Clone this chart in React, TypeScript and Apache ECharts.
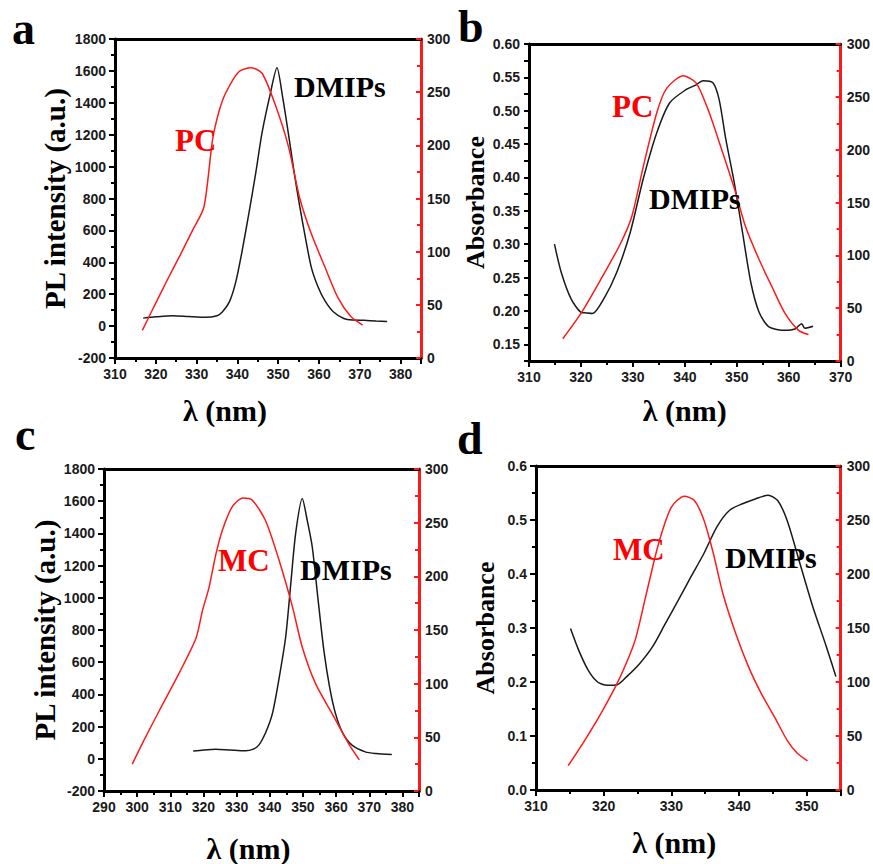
import React, { useEffect, useRef } from "react";
import * as echarts from "echarts";

// ---- Data (x = wavelength nm) ----
const aDMIPs: number[][] = [[316.9,50],[320,58],[324.2,65],[328,60],[332.2,55],[335,65],[336.3,88],[338,150],[339.5,266],[341,450],[342.8,705],[344.5,960],[346,1207],[348,1450],[349.7,1619],[351,1450],[352.5,1207],[354,950],[355.3,747],[356.7,550],[358.1,370],[359.7,250],[361.4,161],[363.5,90],[366.2,46],[368.5,38],[371,36],[374,32],[376.7,29]];
const aPC: number[][] = [[316.7,26],[319,44],[322.5,71],[326,97],[329,120],[331.8,142],[333.9,205],[335.5,232],[337.1,249],[340.3,269],[343.3,273],[346,268],[349.2,239],[352.5,199],[355.3,150],[358.1,117],[361.4,86],[364.6,57],[367.8,39],[370.7,31]];

const bDMIPs: number[][] = [[314.9,0.3],[316.2,0.258],[318.1,0.218],[320,0.198],[321,0.197],[322.2,0.196],[324.4,0.218],[326.9,0.258],[329.5,0.318],[332,0.398],[334.6,0.467],[337.1,0.512],[340.3,0.532],[342,0.538],[343.5,0.545],[345.4,0.542],[346.6,0.517],[347.9,0.457],[349.5,0.393],[351.1,0.318],[352.7,0.243],[354.3,0.198],[356.2,0.176],[359.3,0.171],[361.2,0.173],[362.5,0.181],[363.1,0.174],[364.7,0.177]];
const bPC: number[][] = [[316.5,21],[320,45],[323.8,77],[327.6,111],[329.8,137],[332,184],[334.6,235],[336.5,258],[339.7,270],[342.2,263],[344.7,235],[347.3,197],[349.8,159],[351.7,127],[354.3,96],[356.8,70],[359.3,45],[361.9,29],[363.8,25]];

const cDMIPs: number[][] = [[316.9,48],[320,55],[323.7,60],[328,55],[332.7,50],[335,60],[336.7,85],[338.7,160],[340.8,282],[342.8,500],[344.8,758],[346.3,1080],[347.8,1400],[349.8,1617],[351.3,1480],[352.8,1317],[354.5,1000],[356.3,675],[358,450],[359.8,282],[362,160],[364.8,85],[368.8,43],[372,33],[376.8,27]];
const cMC: number[][] = [[298.5,25],[302,47],[306.7,75],[312.7,110],[317.7,142],[319.7,168],[321.7,190],[323.7,220],[325.7,243],[328.7,265],[331.9,273],[334.7,271],[338.7,252],[342.8,215],[346.8,172],[349.8,134],[353.8,100],[358.8,72],[363.8,44],[367,29]];

const dDMIPs: number[][] = [[315.1,0.299],[316.3,0.259],[317.7,0.222],[319.1,0.2],[320.5,0.194],[322,0.195],[323.4,0.21],[325.3,0.234],[327.2,0.265],[329.1,0.308],[331,0.351],[332.9,0.395],[334.8,0.438],[336.7,0.487],[338.6,0.518],[340.5,0.53],[342.4,0.539],[344.3,0.546],[345.7,0.536],[347.1,0.499],[349,0.419],[350.9,0.339],[352.9,0.265],[354.3,0.21]];
const dMC: number[][] = [[314.75,22.5],[317.2,46],[319.6,71],[322,99],[323.9,126],[324.8,142],[326.2,179],[328.1,228],[330,262],[331.9,272],[333.4,268],[334.8,250],[336.2,219],[337.6,182],[339.5,145],[341.4,114],[343.3,89],[345.2,68],[347.1,46],[348.6,34],[350.1,27]];

const panelLetters = ["a", "b", "c", "d"];
const yTitles = ["PL intensity (a.u.)", "Absorbance", "PL intensity (a.u.)", "Absorbance"];
const xTitle = "λ (nm)";
const refNames = ["PC", "PC", "MC", "MC"];

const RED = "#ff1a1a";
const INK = "#000000";
const TICKFONT = "'Liberation Sans Narrow', 'Arial Narrow', 'Liberation Sans', Arial, sans-serif";
const SERIF = "'Liberation Serif', 'Times New Roman', 'DejaVu Serif', serif";

export default function App() {
  const ref = useRef<HTMLDivElement>(null);
  useEffect(() => {
    if (!ref.current) return;
    const chart = echarts.init(ref.current, undefined, { renderer: "svg" });

    const grids = [
      { left: 115, top: 39, width: 306, height: 319 },
      { left: 529, top: 44, width: 316, height: 317 },
      { left: 104, top: 469, width: 315, height: 322 },
      { left: 536, top: 466, width: 313, height: 324 },
    ];
    const xRanges = [
      [310, 385],
      [310, 370],
      [290, 385],
      [310, 355],
    ];
    const showMax = [false, true, false, false];
    const xNameGap = [37, 34, 42, 37];
    const xNameShift = [86, 0, 26, 28];
    const yNameGap = [46, 34, 40, 38];
    const yNameSize = [29, 26, 29, 26];
    const leftY = [
      { min: -200, max: 1800, interval: 200, fmt: (v: number) => String(Math.round(v)), minor: true },
      { min: 0.125, max: 0.6, interval: 0.025, fmt: (v: number) => (Math.round(v * 1000) % 50 === 0 ? v.toFixed(2) : ""), minor: false },
      { min: -200, max: 1800, interval: 200, fmt: (v: number) => String(Math.round(v)), minor: true },
      { min: 0, max: 0.6, interval: 0.1, fmt: (v: number) => v.toFixed(1), minor: true },
    ];

    const labelStyle = {
      fontFamily: TICKFONT,
      fontWeight: "bold",
      fontSize: 14,
      color: "#1a1a1a",
    };
    const line = (c: string) => ({ show: true, onZero: false, lineStyle: { color: c, width: 3 } });
    const tick = (c: string, len: number, inside: boolean) => ({ show: true, inside, length: len, lineStyle: { color: c, width: 2 } });
    const minor = (c: string, on: boolean) => ({ show: on, splitNumber: 2, length: 4, lineStyle: { color: c, width: 2 } });

    const xAxis: any[] = [];
    const yAxis: any[] = [];
    grids.forEach((_, i) => {
      xAxis.push({
        type: "value",
        gridIndex: i,
        position: "bottom",
        min: xRanges[i][0],
        max: xRanges[i][1],
        interval: 10,
        name: xTitle,
        nameLocation: "middle",
        nameGap: xNameGap[i],
        nameTextStyle: {
          fontFamily: SERIF,
          fontWeight: "bold",
          fontSize: 30,
          color: "#000",
          padding: [0, xNameShift[i], 0, 0],
        },
        axisLine: line(INK),
        axisTick: tick(INK, 6, false),
        minorTick: minor(INK, true),
        axisLabel: { ...labelStyle, margin: 9, showMaxLabel: showMax[i] },
        splitLine: { show: false },
      });
      xAxis.push({
        type: "value",
        gridIndex: i,
        position: "top",
        min: xRanges[i][0],
        max: xRanges[i][1],
        axisLine: line(INK),
        axisTick: { show: false },
        axisLabel: { show: false },
        splitLine: { show: false },
      });
      const ly = leftY[i];
      yAxis.push({
        type: "value",
        gridIndex: i,
        position: "left",
        min: ly.min,
        max: ly.max,
        interval: ly.interval,
        name: yTitles[i],
        nameLocation: "middle",
        nameGap: yNameGap[i],
        nameTextStyle: {
          fontFamily: SERIF,
          fontWeight: "bold",
          fontSize: yNameSize[i],
          color: "#000",
        },
        axisLine: line(INK),
        axisTick: tick(INK, i === 1 ? 5 : 6, false),
        minorTick: minor(INK, ly.minor),
        axisLabel: { ...labelStyle, margin: 9, formatter: ly.fmt },
        splitLine: { show: false },
      });
      yAxis.push({
        type: "value",
        gridIndex: i,
        position: "right",
        min: 0,
        max: 300,
        interval: 50,
        axisLine: line(RED),
        axisTick: tick(RED, 5, true),
        minorTick: minor(RED, true),
        axisLabel: { ...labelStyle, margin: 6 },
        splitLine: { show: false },
      });
    });

    const blackData = [aDMIPs, bDMIPs, cDMIPs, dDMIPs];
    const redData = [aPC, bPC, cMC, dMC];
    const series: any[] = [];
    grids.forEach((_, i) => {
      series.push({
        type: "line",
        name: "DMIPs",
        xAxisIndex: 2 * i,
        yAxisIndex: 2 * i,
        data: blackData[i],
        smooth: 0.25,
        showSymbol: false,
        lineStyle: { color: "#1a1a1a", width: 1.5 },
      });
      series.push({
        type: "line",
        name: refNames[i],
        xAxisIndex: 2 * i,
        yAxisIndex: 2 * i + 1,
        data: redData[i],
        smooth: 0.25,
        showSymbol: false,
        lineStyle: { color: RED, width: 1.5 },
      });
    });

    // Text labels placed via title components (top-left of each text box)
    const letterPos = [[12, 5], [458, 3], [15, 411], [457, 415]];
    const refPos = [[175, 125], [612, 91], [218, 545], [613, 534]];
    const dmPos = [[294, 71], [649, 183], [300, 554], [725, 542]];

    const titles: any[] = [];
    for (let i = 0; i < 4; i++) {
      titles.push({
        text: panelLetters[i],
        left: letterPos[i][0],
        top: letterPos[i][1],
        padding: 0,
        textStyle: { fontFamily: SERIF, fontWeight: "bold", fontSize: 46, lineHeight: 46, color: "#000" },
      });
      titles.push({
        text: refNames[i],
        left: refPos[i][0],
        top: refPos[i][1],
        padding: 0,
        textStyle: { fontFamily: SERIF, fontWeight: "bold", fontSize: 31, lineHeight: 31, color: "#ff0000" },
      });
      titles.push({
        text: "DMIPs",
        left: dmPos[i][0],
        top: dmPos[i][1],
        padding: 0,
        textStyle: { fontFamily: SERIF, fontWeight: "bold", fontSize: 30, lineHeight: 30, color: "#000" },
      });
    }

    chart.setOption({
      animation: false,
      title: titles,
      grid: grids,
      xAxis,
      yAxis,
      series,
    });
    return () => chart.dispose();
  }, []);

  return (
    <div
      ref={ref}
      style={{ position: "absolute", left: 0, top: 0, width: 873, height: 864, background: "#fff" }}
    />
  );
}
